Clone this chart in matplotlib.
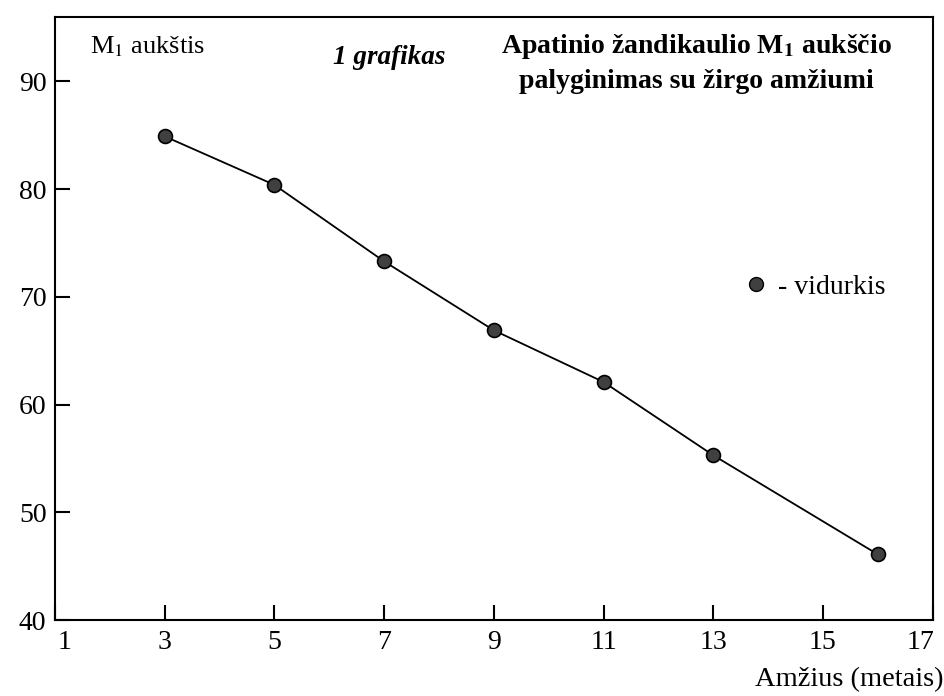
import matplotlib.pyplot as plt
from matplotlib.transforms import ScaledTranslation

plt.rcParams['font.family'] = ['Liberation Serif', 'DejaVu Serif']
plt.rcParams['mathtext.fontset'] = 'stix'

amzius = [3, 5, 7, 9, 11, 13, 16]  # Amžius (metais)
vidurkis = [84.9, 80.4, 73.3, 66.9, 62.1, 55.3, 46.1]  # M1 aukštis
x_ticks = [1, 3, 5, 7, 9, 11, 13, 15, 17]
y_ticks = [40, 50, 60, 70, 80, 90]

fig = plt.figure(figsize=(9.45, 6.96), dpi=100)
ax = fig.add_axes([0.058, 0.109, 0.929, 0.867])

ax.plot(amzius, vidurkis, color='black', linewidth=1.3, marker='o',
        markersize=10, markerfacecolor='#404040', markeredgecolor='black',
        markeredgewidth=1.2)

ax.set_xlim(1, 17)
ax.set_ylim(40, 96)
ax.set_xticks(x_ticks)
ax.set_yticks(y_ticks)
ax.tick_params(axis='both', direction='in', length=11, width=1.5,
               labelsize=20, pad=6)
ax.tick_params(axis='x', pad=7)
for s in ax.spines.values():
    s.set_linewidth(1.5)

# krastiniu etikeciu (1 ir 17) poslinkis
xl = ax.get_xticklabels()
xl[0].set_transform(xl[0].get_transform() + ScaledTranslation(0.10, 0, fig.dpi_scale_trans))
xl[-1].set_transform(xl[-1].get_transform() + ScaledTranslation(-0.12, 0, fig.dpi_scale_trans))

# "legenda" - tik taskas be linijos
h, = ax.plot([], [], linestyle='none', marker='o', markersize=10,
             markerfacecolor='#404040', markeredgecolor='black')
ax.legend([h], ['- vidurkis'], loc='center left', bbox_to_anchor=(0.783, 0.552),
          frameon=False, fontsize=20, handletextpad=0.3, handlelength=1.0,
          borderpad=0, borderaxespad=0)

ax.text(0.04, 0.97, r'M$_1$ aukštis', transform=ax.transAxes, fontsize=19,
        va='top', ha='left')
ax.text(0.317, 0.953, '1 grafikas', transform=ax.transAxes, fontsize=19.5,
        va='top', ha='left', fontstyle='italic', fontweight='bold')
ax.text(0.731, 0.975, 'Apatinio žandikaulio M$_\\mathbf{1}$ aukščio\npalyginimas su žirgo amžiumi',
        transform=ax.transAxes, fontsize=20, va='top', ha='center',
        fontweight='bold', linespacing=1.45)

fig.text(0.998, 0.005, 'Amžius (metais)', fontsize=20.5, ha='right', va='bottom')

fig.savefig('out.png', dpi=100)
